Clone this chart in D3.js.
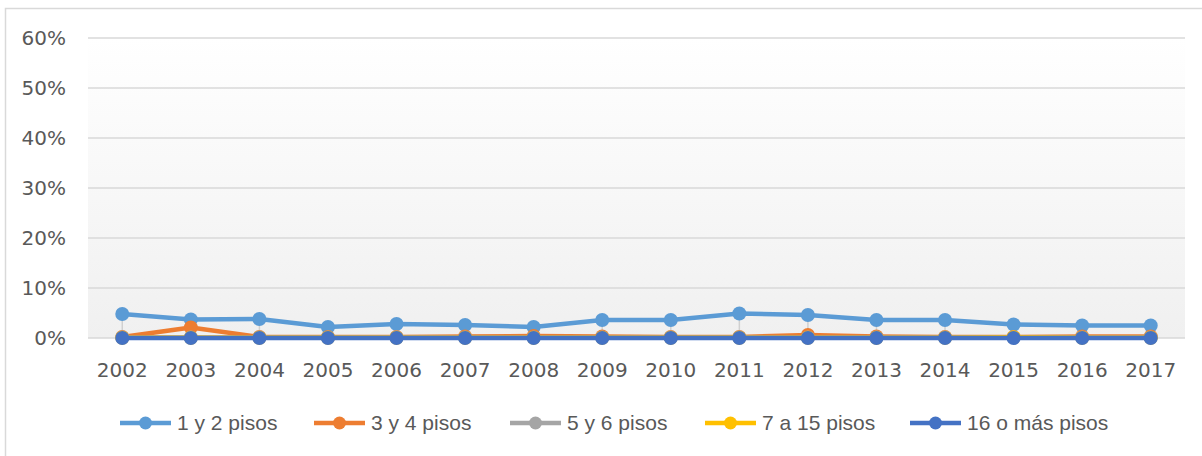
<!DOCTYPE html>
<html>
<head>
<meta charset="utf-8">
<script src="https://cdn.jsdelivr.net/npm/d3@7"></script>
<style>
  body { margin: 0; background: #fff; }
  svg text { font-family: "DejaVu Sans", sans-serif; fill: #595959; }
</style>
</head>
<body>
<div id="canvas"></div>
<script>
const years = ['2002','2003','2004','2005','2006','2007','2008','2009','2010','2011','2012','2013','2014','2015','2016','2017'];
const seriesNames = ['1 y 2 pisos','3 y 4 pisos','5 y 6 pisos','7 a 15 pisos','16 o más pisos'];
const colors = ['#5b9bd5','#ed7d31','#a5a5a5','#ffc000','#4472c4'];
const pisos12 = [4.8,3.7,3.8,2.2,2.8,2.6,2.2,3.6,3.6,4.9,4.6,3.6,3.6,2.7,2.5,2.5];
const pisos34 = [0.2,2.1,0.2,0.2,0.2,0.3,0.4,0.3,0.2,0.2,0.6,0.3,0.2,0.2,0.3,0.3];
const pisos56 = [0.1,0.1,0.1,0.1,0.1,0.1,0.1,0.1,0.1,0.1,0.1,0.1,0.1,0.1,0.1,0.1];
const pisos715 = [0.05,0.05,0.05,0.05,0.05,0.05,0.05,0.05,0.05,0.05,0.05,0.05,0.05,0.15,0.05,0.05];
const pisos16 = [0,0,0,0,0,0,0,0,0,0,0,0,0,0,0,0];
const yTicks = [0,10,20,30,40,50,60];

const allSeries = [pisos12, pisos34, pisos56, pisos715, pisos16];

const width = 1202, height = 456;
const svg = d3.select('#canvas').append('svg')
    .attr('width', width).attr('height', height);

// chart frame
svg.append('rect')
    .attr('x', 5.5).attr('y', 8.5)
    .attr('width', 1210).attr('height', 460)
    .attr('fill', 'none').attr('stroke', '#d9d9d9').attr('stroke-width', 1.5);

const x = d3.scaleBand().domain(years).range([88, 1185]);
const y = d3.scaleLinear().domain([0, 60]).range([338, 38]);
const cx = d => x(d) + x.bandwidth() / 2;

const defs = svg.append('defs');
const grad = defs.append('linearGradient').attr('id', 'bg')
    .attr('x1', 0).attr('y1', 0).attr('x2', 0).attr('y2', 1);
grad.append('stop').attr('offset', '0%').attr('stop-color', '#ffffff');
grad.append('stop').attr('offset', '100%').attr('stop-color', '#f0f0f0');

svg.append('rect')
    .attr('x', 88).attr('y', y(60))
    .attr('width', 1185 - 88).attr('height', y(0) - y(60))
    .attr('fill', 'url(#bg)');

// gridlines
svg.selectAll('.grid').data(yTicks).enter().append('line')
    .attr('x1', 88).attr('x2', 1185)
    .attr('y1', d => y(d)).attr('y2', d => y(d))
    .attr('stroke', '#d9d9d9').attr('stroke-width', 1.5);

// y labels
svg.selectAll('.ylab').data(yTicks).enter().append('text')
    .attr('x', 66).attr('y', d => y(d))
    .attr('dy', '0.35em').attr('text-anchor', 'end')
    .style('font-size', '20px')
    .text(d => d + '%');

// x labels
svg.selectAll('.xlab').data(years).enter().append('text')
    .attr('x', d => cx(d)).attr('y', 377)
    .attr('text-anchor', 'middle')
    .style('font-size', '20px')
    .text(d => d);

// drop lines (high-low)
svg.selectAll('.drop').data(years).enter().append('line')
    .attr('x1', d => cx(d)).attr('x2', d => cx(d))
    .attr('y1', (d, i) => y(d3.max(allSeries, s => s[i])))
    .attr('y2', (d, i) => y(d3.min(allSeries, s => s[i])))
    .attr('stroke', '#d0d0d0').attr('stroke-width', 1.5);

const line = d3.line().x((d, i) => cx(years[i])).y(d => y(d));

allSeries.forEach((s, k) => {
    svg.append('path').datum(s)
        .attr('d', line)
        .attr('fill', 'none')
        .attr('stroke', colors[k]).attr('stroke-width', 4.5)
        .attr('stroke-linejoin', 'round');
    svg.selectAll('.m' + k).data(s).enter().append('circle')
        .attr('cx', (d, i) => cx(years[i])).attr('cy', d => y(d))
        .attr('r', 7).attr('fill', colors[k]);
});

// legend
const legX = [120, 314, 510, 705, 910];
const leg = svg.selectAll('.leg').data(seriesNames).enter().append('g')
    .attr('transform', (d, i) => `translate(${legX[i]},423)`);
leg.append('line').attr('x1', 0).attr('x2', 51).attr('y1', 0).attr('y2', 0)
    .attr('stroke', (d, i) => colors[i]).attr('stroke-width', 4.5);
leg.append('circle').attr('cx', 25.5).attr('cy', 0).attr('r', 6.5)
    .attr('fill', (d, i) => colors[i]);
leg.append('text').attr('x', 57).attr('y', 0).attr('dy', '0.35em')
    .style('font-family', '"Liberation Sans Narrow", "Liberation Sans", sans-serif')
    .style('font-size', '21px')
    .text(d => d);
</script>
</body>
</html>
